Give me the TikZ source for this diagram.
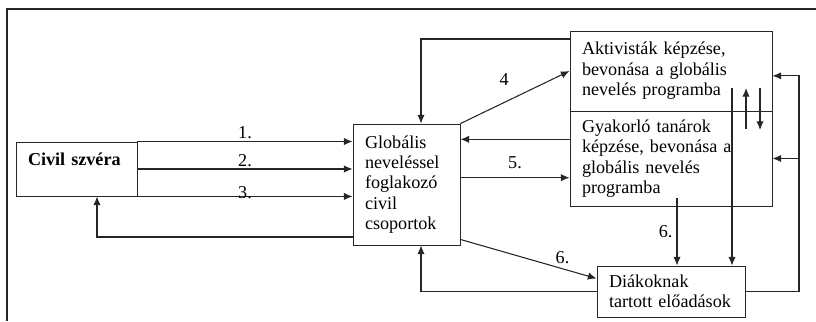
\documentclass[tikz,border=0pt]{standalone}
\usepackage{fontspec}
\setmainfont{Liberation Serif}
\usetikzlibrary{arrows.meta}
\usetikzlibrary{calc}

\begin{document}
\begin{tikzpicture}
	[x=0.75pt, y=-0.75pt,
	 font=\fontsize{13.6}{15.3}\selectfont,
	 box/.style={draw=black!85, line width=0.7pt, inner xsep=9pt, align=left},
	 link/.style={draw=black!85, line width=0.8pt, -{Latex[length=6.5pt,width=5.5pt]}},
	 num/.style={inner sep=1pt}];

	\useasboundingbox (0,0) rectangle (816,321);

	%Frame
	\draw[line width=1.3pt, black!85] (7,321) -- (7,9) -- (816,9);

	%Boxes
	\node[box, minimum width=90.75pt, minimum height=40.5pt, text width=72.75pt,
	      inner ysep=0pt, text height=17.25pt, text depth=23.25pt] (civ) at (76.5,169) {\textbf{Civil~szvéra}};
	\node[box, minimum width=80.25pt, minimum height=90.75pt, text width=62.25pt] (glob) at (406.5,184.5)
		{Globális\\ neveléssel\\ foglakozó\\ civil\\ csoportok};
	\node[box, minimum width=151.5pt, minimum height=60pt, text width=133.5pt] (akt) at (671,71)
		{Aktivisták~képzése,\\ bevonása~a~globális\\ nevelés~programba};
	\node[box, minimum width=151.5pt, minimum height=71.25pt, text width=133.5pt] (gyak) at (671,158.5)
		{Gyakorló~tanárok\\ képzése,~bevonása~a\\ globális~nevelés\\ programba};
	\node[box, minimum width=111pt, minimum height=38.25pt, text width=93pt] (diak) at (671,291.5)
		{Diákoknak\\ tartott~előadások};

	%Helper points
	\coordinate (cback) at (97,237);
	\coordinate (gtop) at (421,39);
	\coordinate (six) at (677,198);
	\coordinate (vtop) at (732,88);
	\coordinate (upb) at (746,129);
	\coordinate (upt) at (746,88);
	\coordinate (dnt) at (760,88);
	\coordinate (dnb) at (760,130);
	\coordinate (xr) at (799,0);
	\coordinate (ra) at ($(akt.north east)!0.56!(akt.south east)$);

	%Civil szvera -> csoportok
	\draw[link] (civ.north east) -- (glob.west |- civ.north east) node[num, midway, above=1pt] {1.};
	\draw[link] (civ.east) -- (glob.west |- civ.east) node[num, midway, above=0.5pt] {2.};
	\draw[link] (civ.south east) -- (glob.west |- civ.south east) node[num, midway, above=-3pt] {3.};
	\draw[link] (glob.west |- cback) -| (civ.south -| cback);

	%csoportok <-> programok
	\draw[link] (glob.north east) -- (akt.west) node[num, pos=0.4, above=11pt] {4};
	\draw[link] (akt.west |- gtop) -| (glob.north -| gtop);
	\draw[link] ($(gyak.north west)!0.3!(gyak.south west)$) -- (glob.east |- {$(gyak.north west)!0.3!(gyak.south west)$});
	\draw[link] (glob.east |- {$(gyak.north west)!0.7!(gyak.south west)$}) -- ($(gyak.north west)!0.7!(gyak.south west)$)
		node[num, midway, above=5pt] {5.};

	%eloadasok
	\draw[link] ($(glob.south east)+(0,-6)$) -- ($(diak.north west)!0.25!(diak.south west)$)
		node[num, pos=0.75, above=2pt] {6.};
	\draw[link] (six) -- (six |- diak.north) node[num, midway, left=2pt] {6.};
	\draw[link] (vtop) -- (vtop |- diak.north);
	\draw[link] (diak.west) -| (glob.south -| gtop);

	%Visszacsatolas
	\draw[link] (upb) -- (upt);
	\draw[link] (dnt) -- (dnb);
	\draw[link] (diak.east) -| (xr |- ra) -- (ra);
	\draw[link] (xr |- gyak.east) -- (gyak.east);
\end{tikzpicture}
\end{document}
